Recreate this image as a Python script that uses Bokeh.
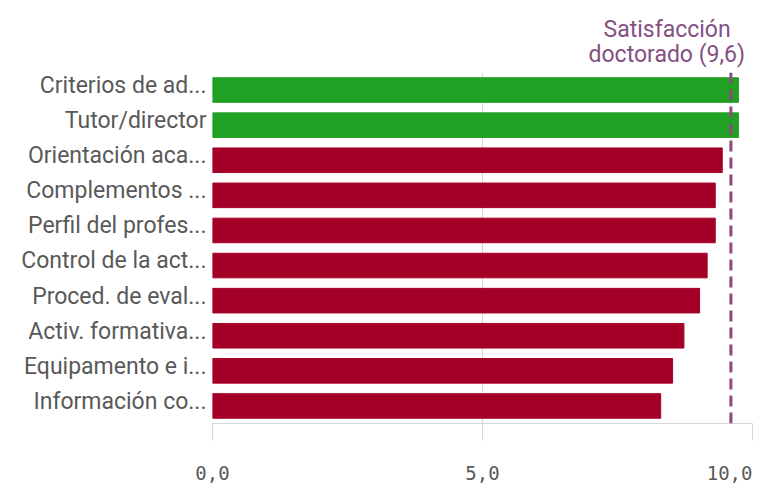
from bokeh.plotting import figure
from bokeh.models import Range1d, FixedTicker, Span, Title, LinearAxis, ColumnDataSource
from bokeh.embed import file_html
from bokeh.resources import INLINE

categories = ["Criterios de ad...", "Tutor/director", "Orientación aca...", "Complementos ...",
              "Perfil del profes...", "Control de la act...", "Proced. de eval...",
              "Activ. formativa...", "Equipamento e i...", "Información co..."]
values = [9.74, 9.74, 9.44, 9.31, 9.31, 9.16, 9.02, 8.73, 8.52, 8.30]
reference_value = 9.6
reference_label = ["Satisfacción", "doctorado (9,6)"]
x_ticks = [0, 5, 10]
x_tick_labels = ["0,0", "5,0", "10,0"]

GREEN = "#21a124"
RED = "#a40027"
LINE_PURPLE = "#8e477f"
TEXT_PURPLE = "#845082"
TEXT_GRAY = "#595959"
GRID = "#d6d6d6"
LABEL_FONT = "Roboto"
MONO_FONT = "DejaVu Sans Mono"
MONO_SIZE = 19

W, H = 762, 490
BL, BR, BT, BB = 212, 10, 72, 67
LABEL_LIFT = 0.13  # category labels sit slightly above the bar centre

idx = list(range(len(categories)))
colors = [GREEN if v >= reference_value else RED for v in values]
src = ColumnDataSource(dict(y=idx, right=values, color=colors))

p = figure(width=W, height=H, output_backend="svg", toolbar_location=None,
           x_range=Range1d(x_ticks[0], x_ticks[-1]),
           y_range=Range1d(len(categories) - 0.5, -0.5),
           min_border_left=BL, min_border_right=BR, min_border_top=BT, min_border_bottom=BB)
p.outline_line_color = None
p.background_fill_color = "white"
p.border_fill_color = "white"

p.hbar(y="y", left=0, right="right", height=0.7, color="color", source=src)

# x axis: tick marks only
p.xaxis.ticker = FixedTicker(ticks=x_ticks)
p.xaxis.major_label_overrides = {t: "" for t in x_ticks}
p.xaxis.major_label_standoff = 5
p.xaxis.axis_line_color = GRID
p.xaxis.major_tick_line_color = GRID
p.xaxis.major_tick_in = 0
p.xaxis.major_tick_out = 17
p.xaxis.minor_tick_line_color = None

# second axis carrying the tick labels; the last label is right-aligned to the frame edge
px_per_unit = (W - BL - BR) / (x_ticks[-1] - x_ticks[0])
last_half = len(x_tick_labels[-1]) * 0.602 * MONO_SIZE / 2
label_pos = list(x_ticks[:-1]) + [x_ticks[-1] - last_half / px_per_unit]
lab_axis = LinearAxis(ticker=FixedTicker(ticks=label_pos),
                      major_label_overrides={pos: lab for pos, lab in zip(label_pos, x_tick_labels)},
                      major_label_text_font=MONO_FONT,
                      major_label_text_font_size=f"{MONO_SIZE}px",
                      major_label_text_color=TEXT_GRAY,
                      major_label_standoff=25,
                      major_tick_in=0, major_tick_out=0,
                      major_tick_line_color=None, minor_tick_line_color=None,
                      axis_line_color=None)
p.add_layout(lab_axis, "below")

p.xgrid.ticker = FixedTicker(ticks=x_ticks)
p.xgrid.grid_line_color = GRID
p.ygrid.grid_line_color = None

# y axis
ypos = [i - LABEL_LIFT for i in idx]
p.yaxis.ticker = FixedTicker(ticks=ypos)
p.yaxis.major_label_overrides = {yp: c for yp, c in zip(ypos, categories)}
p.yaxis.major_label_text_font = LABEL_FONT
p.yaxis.major_label_text_font_size = "23px"
p.yaxis.major_label_text_color = TEXT_GRAY
p.yaxis.major_label_standoff = 6
p.yaxis.axis_line_color = None
p.yaxis.major_tick_line_color = None
p.yaxis.major_tick_in = 0
p.yaxis.major_tick_out = 0
p.yaxis.minor_tick_line_color = None

# reference line
p.add_layout(Span(location=reference_value, dimension="height", line_color=LINE_PURPLE,
                  line_width=3, line_dash="11 6"))
# reference label (two lines, stacked above the frame; first added sits closest)
p.add_layout(Title(text=reference_label[1], align="left", offset=376, standoff=9,
                   text_font=LABEL_FONT, text_font_size="23px", text_font_style="normal",
                   text_color=TEXT_PURPLE), "above")
p.add_layout(Title(text=reference_label[0], align="left", offset=391, standoff=-17,
                   text_font=LABEL_FONT, text_font_size="23px", text_font_style="normal",
                   text_color=TEXT_PURPLE), "above")

open("out.html", "w").write(file_html(p, INLINE))
